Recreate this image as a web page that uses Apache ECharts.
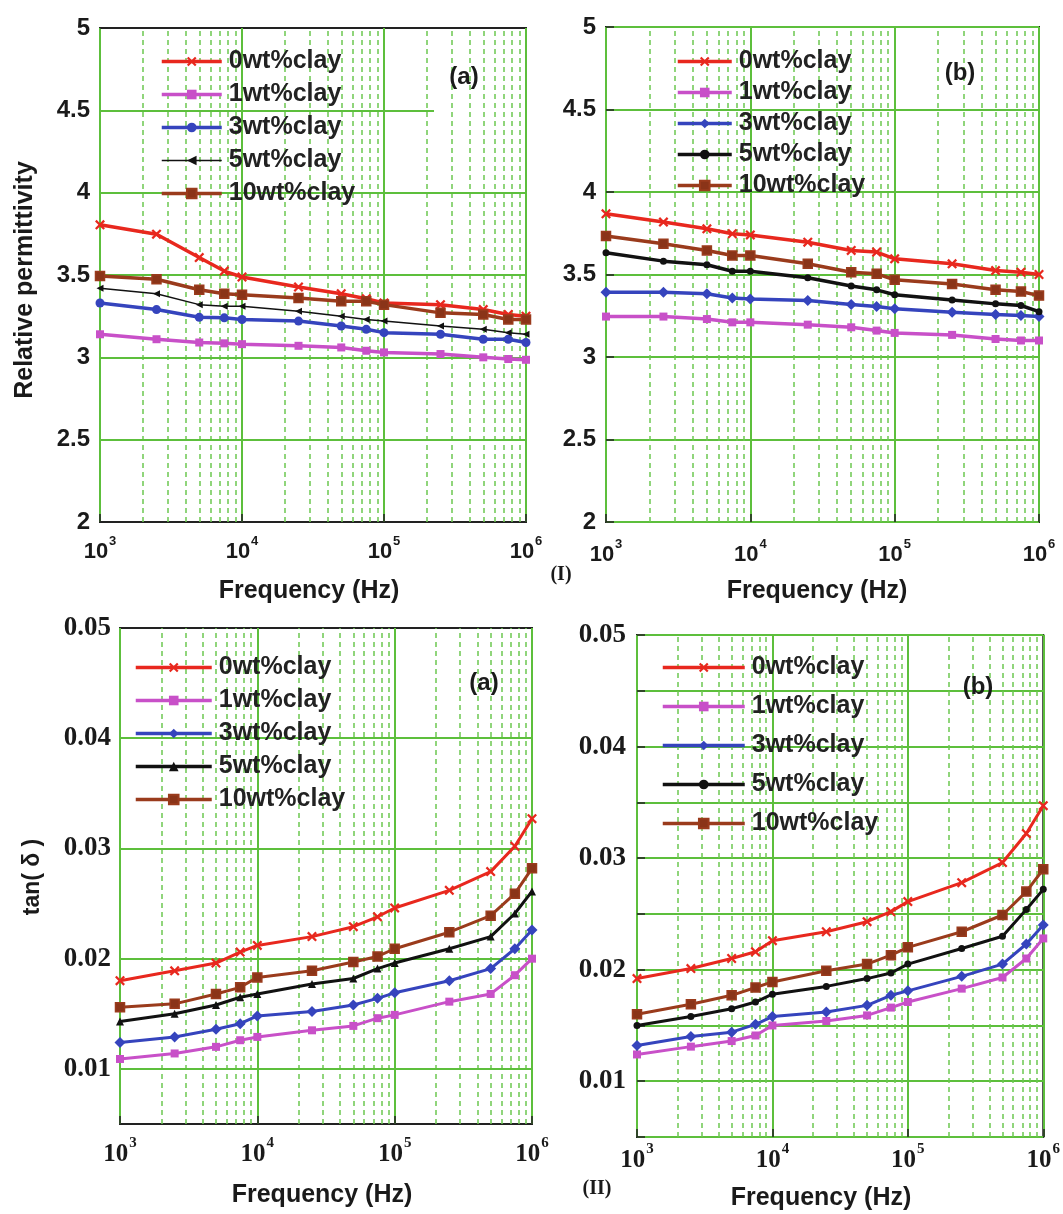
<!DOCTYPE html>
<html><head><meta charset="utf-8">
<script src="https://cdn.jsdelivr.net/npm/echarts@6/dist/echarts.min.js"></script>
<style>html,body{margin:0;padding:0;background:#fff}#c{width:1063px;height:1214px}</style>
</head><body><div id="c"></div>
<script>
// ---------- DATA ----------
const freq = [1e3, 2.5e3, 5e3, 7.5e3, 1e4, 2.5e4, 5e4, 7.5e4, 1e5, 2.5e5, 5e5, 7.5e5, 1e6];
const seriesNames = ['0wt%clay', '1wt%clay', '3wt%clay', '5wt%clay', '10wt%clay'];

// (I)(a) relative permittivity
const permA_0  = [3.805, 3.748, 3.606, 3.524, 3.488, 3.427, 3.386, 3.356, 3.330, 3.320, 3.290, 3.260, 3.250];
const permA_1  = [3.140, 3.110, 3.090, 3.085, 3.080, 3.070, 3.060, 3.040, 3.030, 3.020, 3.000, 2.990, 2.985];
const permA_3  = [3.330, 3.290, 3.243, 3.240, 3.230, 3.220, 3.190, 3.170, 3.150, 3.140, 3.110, 3.110, 3.090];
const permA_5  = [3.420, 3.386, 3.320, 3.310, 3.310, 3.280, 3.250, 3.230, 3.220, 3.190, 3.170, 3.150, 3.140];
const permA_10 = [3.494, 3.474, 3.410, 3.386, 3.380, 3.360, 3.340, 3.340, 3.320, 3.270, 3.260, 3.230, 3.230];

// (I)(b) relative permittivity
const permB_0  = [3.868, 3.818, 3.777, 3.747, 3.740, 3.696, 3.646, 3.636, 3.595, 3.565, 3.524, 3.514, 3.500];
const permB_1  = [3.245, 3.245, 3.230, 3.210, 3.210, 3.196, 3.180, 3.160, 3.146, 3.134, 3.109, 3.100, 3.100];
const permB_3  = [3.393, 3.393, 3.383, 3.358, 3.352, 3.342, 3.318, 3.306, 3.292, 3.271, 3.257, 3.251, 3.245];
const permB_5  = [3.632, 3.581, 3.559, 3.520, 3.520, 3.480, 3.430, 3.407, 3.377, 3.346, 3.322, 3.312, 3.275];
const permB_10 = [3.733, 3.686, 3.646, 3.615, 3.615, 3.565, 3.514, 3.504, 3.468, 3.443, 3.407, 3.397, 3.372];

// (II)(a) tan(delta)
const tanA_0  = [0.0180, 0.0189, 0.0196, 0.0206, 0.0212, 0.0220, 0.0229, 0.0238, 0.0246, 0.0262, 0.0279, 0.0302, 0.0327];
const tanA_1  = [0.0109, 0.0114, 0.0120, 0.0126, 0.0129, 0.0135, 0.0139, 0.0146, 0.0149, 0.0161, 0.0168, 0.0185, 0.0200];
const tanA_3  = [0.0124, 0.0129, 0.0136, 0.0141, 0.0148, 0.0152, 0.0158, 0.0164, 0.0169, 0.0180, 0.0191, 0.0209, 0.0226];
const tanA_5  = [0.0143, 0.0150, 0.0158, 0.0165, 0.0168, 0.0177, 0.0182, 0.0191, 0.0196, 0.0209, 0.0220, 0.0241, 0.0261];
const tanA_10 = [0.0156, 0.0159, 0.0168, 0.0174, 0.0183, 0.0189, 0.0197, 0.0202, 0.0209, 0.0224, 0.0239, 0.0259, 0.0282];

// (II)(b) tan(delta)
const tanB_0  = [0.0192, 0.0201, 0.0210, 0.0216, 0.0226, 0.0234, 0.0243, 0.0252, 0.0261, 0.0278, 0.0296, 0.0322, 0.0347];
const tanB_1  = [0.0124, 0.0131, 0.0136, 0.0141, 0.0150, 0.0154, 0.0159, 0.0166, 0.0171, 0.0183, 0.0193, 0.0210, 0.0228];
const tanB_3  = [0.0132, 0.0140, 0.0144, 0.0151, 0.0158, 0.0162, 0.0168, 0.0177, 0.0181, 0.0194, 0.0205, 0.0223, 0.0240];
const tanB_5  = [0.0150, 0.0158, 0.0165, 0.0171, 0.0178, 0.0185, 0.0192, 0.0197, 0.0205, 0.0219, 0.0230, 0.0254, 0.0272];
const tanB_10 = [0.0160, 0.0169, 0.0177, 0.0184, 0.0189, 0.0199, 0.0205, 0.0213, 0.0220, 0.0234, 0.0249, 0.0270, 0.0290];

const permTicks = [2, 2.5, 3, 3.5, 4, 4.5, 5];
const tanTicks = [0.01, 0.02, 0.03, 0.04, 0.05];
const minorFreq = [2e3,3e3,4e3,5e3,6e3,7e3,8e3,9e3,2e4,3e4,4e4,5e4,6e4,7e4,8e4,9e4,2e5,3e5,4e5,5e5,6e5,7e5,8e5,9e5];

// ---------- STYLE ----------
const SANS = "'Liberation Sans', Arial, sans-serif";
const SERIF = "'Liberation Serif', 'Times New Roman', serif";
const C = {red:'#e8281e', mag:'#c850c8', blue:'#3544bd', black:'#111111', brown:'#9a3b1c'};
const GREEN = '#5dbf3c', GREEN_D = '#6cc850';
const XSYM = 'path://M0,1.6L1.6,0L5,3.4L8.4,0L10,1.6L6.6,5L10,8.4L8.4,10L5,6.6L1.6,10L0,8.4L3.4,5Z';
const LTRI = 'path://M0,5L10,0L10,10Z';
const ZW = ['', '\u200b', '\u200b\u200b', '\u200b\u200b\u200b'];

const panels = [
  {grid:{left:100, top:28, width:426, height:494}, kind:'perm',
   data:[permA_0, permA_1, permA_3, permA_5, permA_10],
   marks:[[C.red,XSYM,10,3.5],[C.mag,'rect',8,3.5],[C.blue,'circle',9,3.5],[C.black,LTRI,7,1.5],[C.brown,'rect',9,3.5]],
   legend:{left:160, top:49, itemWidth:60, itemGap:8}, tag:'(a)', tagXY:[464,77],
   xlab:{font:SANS, size:22, sup:13, margin:13}, ylabMargin:10},
  {grid:{left:606, top:27, width:433, height:495}, kind:'perm',
   data:[permB_0, permB_1, permB_3, permB_5, permB_10],
   marks:[[C.red,XSYM,10,3.5],[C.mag,'rect',8,3.5],[C.blue,'diamond',11,3.5],[C.black,'circle',7,3.5],[C.brown,'rect',9,3.5]],
   legend:{left:676, top:49, itemWidth:54, itemGap:6}, tag:'(b)', tagXY:[960,73],
   xlab:{font:SANS, size:22, sup:13, margin:16}, ylabMargin:10},
  {grid:{left:120, top:628, width:412, height:496}, kind:'tanA',
   data:[tanA_0, tanA_1, tanA_3, tanA_5, tanA_10],
   marks:[[C.red,XSYM,10,3],[C.mag,'rect',8,3],[C.blue,'diamond',11,3],[C.black,'triangle',8,3],[C.brown,'rect',9,3]],
   legend:{left:134, top:655, itemWidth:76, itemGap:8}, tag:'(a)', tagXY:[484,683],
   xlab:{font:SERIF, size:25, sup:15, margin:12}, ylabMargin:9},
  {grid:{left:637, top:635, width:408, height:502}, kind:'tanB',
   data:[tanB_0, tanB_1, tanB_3, tanB_5, tanB_10],
   marks:[[C.red,XSYM,10,3],[C.mag,'rect',8,3],[C.blue,'diamond',11,3],[C.black,'circle',7,3],[C.brown,'rect',9,3]],
   legend:{left:661, top:655, itemWidth:82, itemGap:14}, tag:'(b)', tagXY:[978,687],
   xlab:{font:SERIF, size:25, sup:15, margin:5}, ylabMargin:11}
];

const option = {
  backgroundColor:'#ffffff', animation:false,
  grid:[], xAxis:[], yAxis:[], series:[], legend:[], graphic:[]
};

panels.forEach((p, i) => {
  option.grid.push(Object.assign({show:true, borderColor:'#222', borderWidth:2, backgroundColor:'#fff'}, p.grid));
  option.xAxis.push({
    type:'log', logBase:10, min:1000, max:1e6, gridIndex:i,
    axisLine:{show:false},
    axisTick:{show:true, inside:true, length:8, lineStyle:{color:'#222', width:1.5}},
    splitLine:{show:true, lineStyle:{color:GREEN, width:2}},
    axisLabel:{
      margin:p.xlab.margin,
      formatter: v => '{b|10}{s|' + Math.round(Math.log10(v)) + '}',
      rich:{
        b:{fontFamily:p.xlab.font, fontWeight:'bold', fontSize:p.xlab.size, color:'#1a1a1a', lineHeight:p.xlab.size+6, verticalAlign:'bottom'},
        s:{fontFamily:p.xlab.font, fontWeight:'bold', fontSize:p.xlab.sup, color:'#1a1a1a', lineHeight:p.xlab.sup, verticalAlign:'top', padding:[0,0,0,1]}
      }
    }
  });
  const isPerm = p.kind === 'perm';
  const y = {
    type:'value', gridIndex:i,
    min: isPerm ? permTicks[0] : 0.005,
    max: isPerm ? permTicks[permTicks.length-1] : tanTicks[tanTicks.length-1],
    interval: isPerm ? 0.5 : 0.005,
    axisLine:{show:false},
    axisTick:{show: p.kind !== 'tanA', inside:true, length:8, lineStyle:{color:'#222', width:1.5}},
    splitLine:{show: p.kind === 'tanB' || i === 1, lineStyle:{color:GREEN, width:2}},
    axisLabel:{
      margin:p.ylabMargin,
      fontFamily: isPerm ? SANS : SERIF, fontWeight:'bold', fontSize: isPerm ? 24 : 27, color:'#1a1a1a',
      formatter: v => {
        if (isPerm) return String(+v.toFixed(1));
        const k = Math.round(v*1000);
        return (k % 10 === 0) ? (k/1000).toFixed(2) : '';
      }
    }
  };
  option.yAxis.push(y);

  // grid-line helper series (minor dashed verticals, some horizontals)
  const ml = minorFreq.map(f => ({xAxis:f}));
  if (i === 0) {
    [2.5, 3, 3.5, 4].forEach(v => ml.push({yAxis:v, lineStyle:{type:'solid', color:GREEN, width:2}}));
    ml.push([{coord:[1000, 4.5], lineStyle:{type:'solid', color:GREEN, width:2}}, {coord:[2.25e5, 4.5]}]);
  }
  if (p.kind === 'tanA') {
    tanTicks.slice(0, 4).forEach(v => ml.push({yAxis:v, lineStyle:{type:'solid', color:GREEN, width:2}}));
  }
  option.series.push({
    type:'line', name:'grid'+i, xAxisIndex:i, yAxisIndex:i, data:[], z:1, silent:true,
    markLine:{silent:true, z:1, symbol:['none','none'], label:{show:false},
      lineStyle:{color:GREEN_D, type:[5,4], width:1.5}, emphasis:{disabled:true}, data:ml}
  });

  const names = seriesNames.map(n => n + ZW[i]);
  p.data.forEach((vals, k) => {
    const [col, sym, size, lw] = p.marks[k];
    option.series.push({
      type:'line', name:names[k], xAxisIndex:i, yAxisIndex:i, z:3,
      data: freq.map((f, j) => [f, vals[j]]),
      symbol:sym, symbolSize:size, showAllSymbol:true,
      lineStyle:{color:col, width:lw},
      itemStyle:{color: k === 4 ? '#8a3418' : col, borderColor: col, borderWidth: k===4 ? 1.5 : 0}
    });
  });

  option.legend.push({
    orient:'vertical', left:p.legend.left, top:p.legend.top,
    itemWidth:p.legend.itemWidth, itemHeight:12, itemGap:p.legend.itemGap,
    padding:0, selectedMode:false, data:names,
    lineStyle:{width: i === 0 ? 'inherit' : 3.5},
    textStyle:{fontFamily:SANS, fontWeight:'bold', fontSize:25, color:'#222', lineHeight:25,
      padding:[0,0,0,2]},
    formatter: n => n.replace(/\u200b/g, '')
  });

  option.graphic.push({type:'text', x:p.tagXY[0], y:p.tagXY[1], z:50,
    style:{text:p.tag, fontFamily:SANS, fontWeight:'bold', fontSize:24, fill:'#1a1a1a', align:'center', verticalAlign:'middle', textAlign:'center', textVerticalAlign:'middle'}});
});

// axis titles and figure labels
const txt = (t, x, y, size, rot, font) => ({type:'text', x, y, rotation:rot||0, z:50,
  style:{text:t, fontFamily:font||SANS, fontWeight:'bold', fontSize:size, fill:'#1a1a1a',
    align:'center', verticalAlign:'middle', textAlign:'center', textVerticalAlign:'middle'}});
option.graphic.push(
  txt('Relative permittivity', 25, 280, 25, Math.PI/2),
  txt('tan( δ )', 33, 877, 23, Math.PI/2),
  txt('Frequency (Hz)', 309, 591, 25),
  txt('Frequency (Hz)', 817, 591, 25),
  txt('Frequency (Hz)', 322, 1195, 25),
  txt('Frequency (Hz)', 821, 1198, 25),
  txt('(I)', 561, 575, 20, 0, SERIF),
  txt('(II)', 597, 1189, 20, 0, SERIF)
);

const chart = echarts.init(document.getElementById('c'), null, {renderer:'canvas'});
chart.setOption(option);
</script></body></html>
